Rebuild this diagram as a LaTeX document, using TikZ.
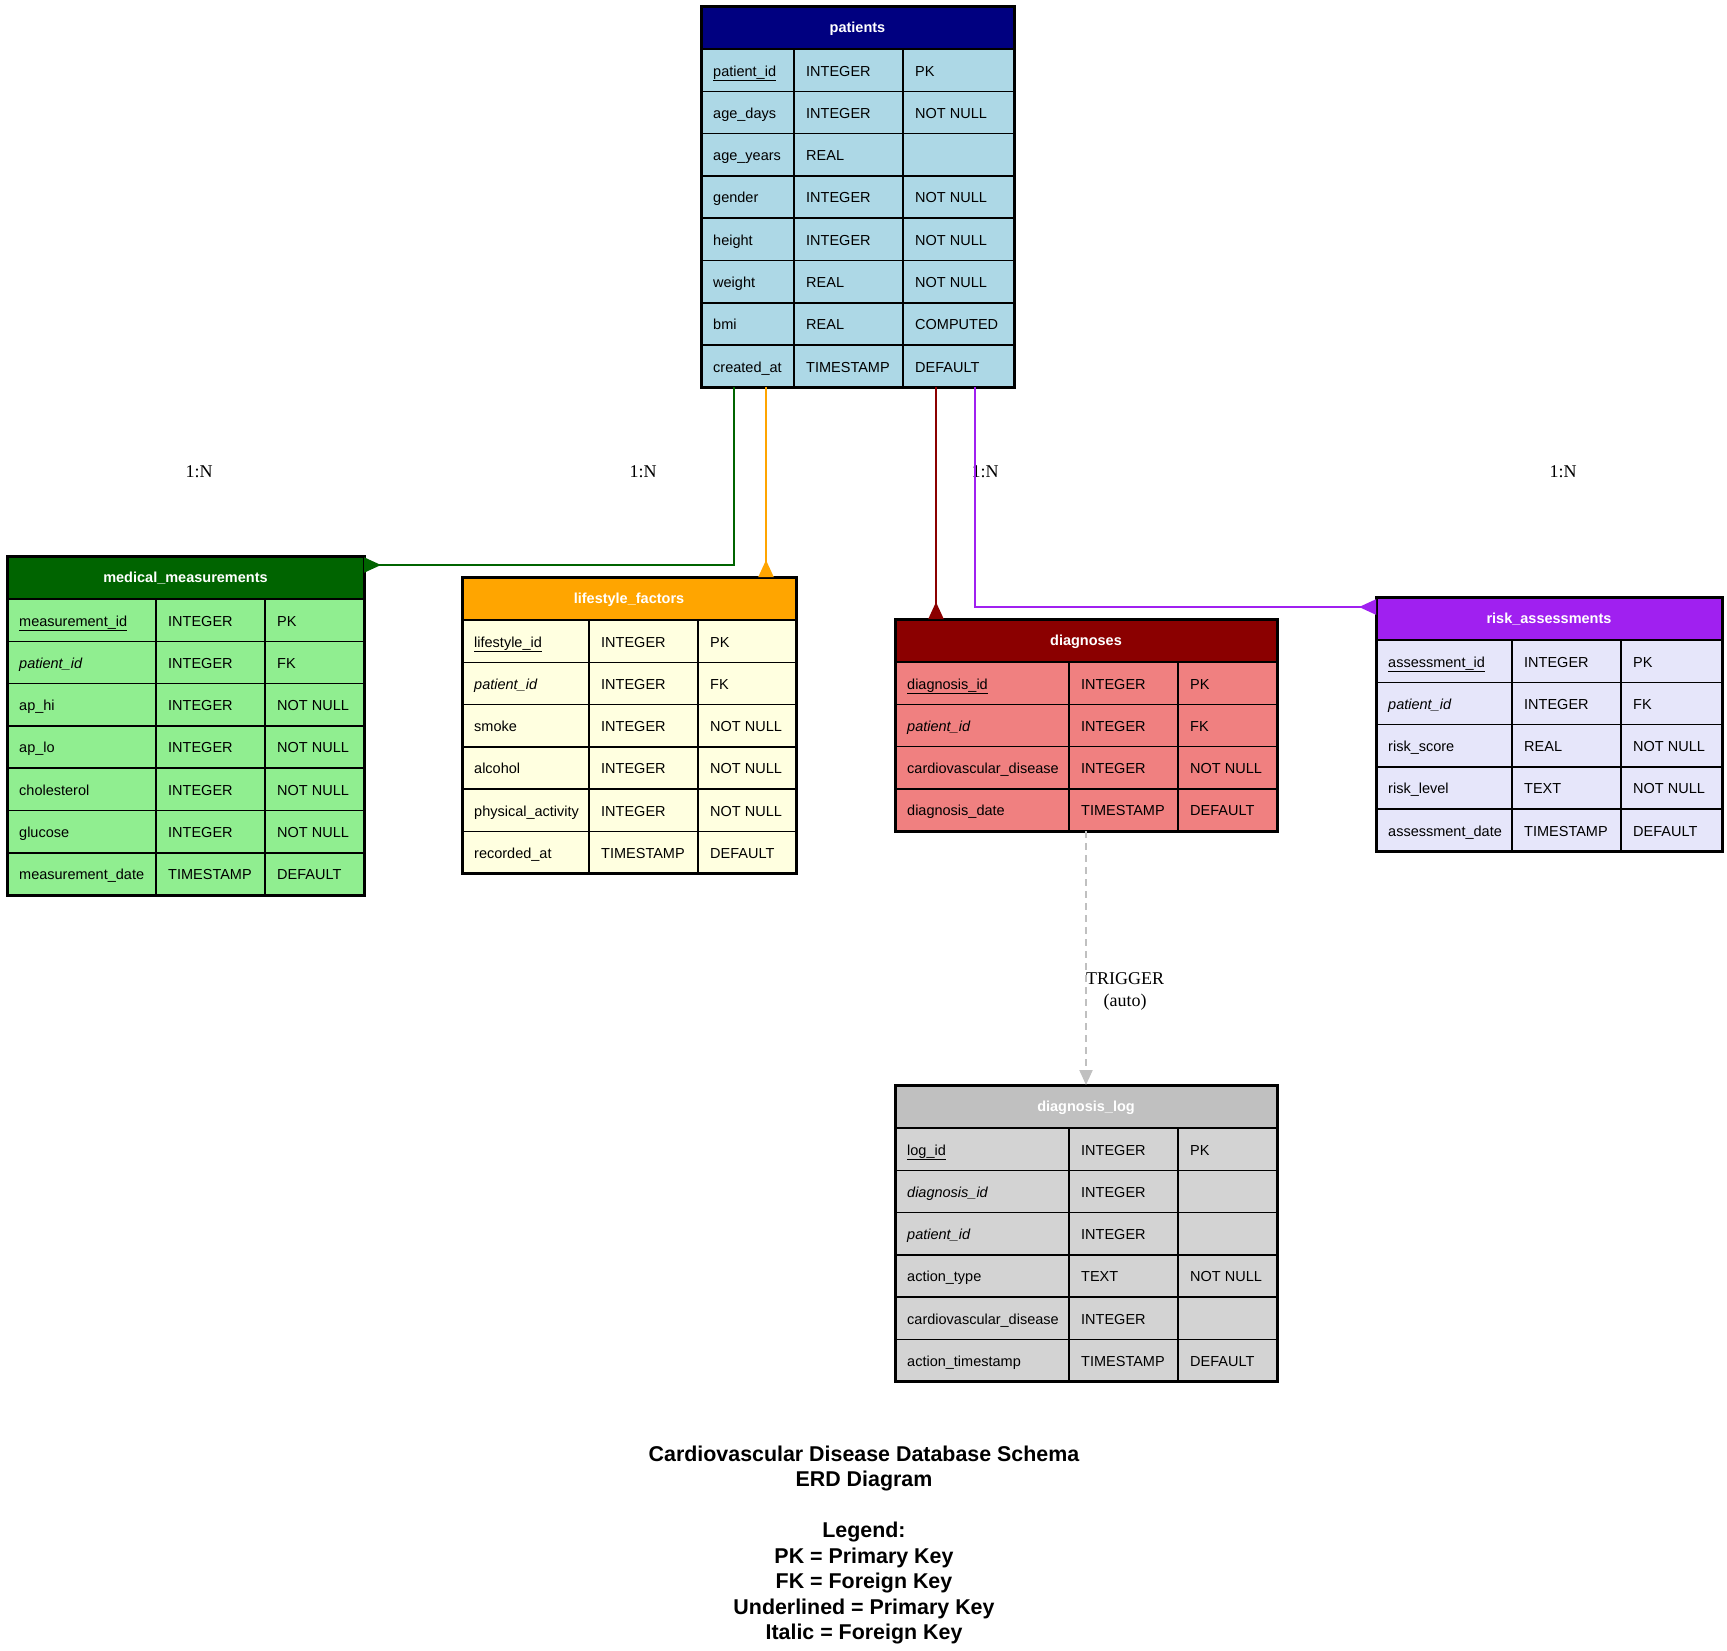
\documentclass[tikz,border=0pt]{standalone}
\usepackage{fontspec}
\setmainfont{Liberation Sans}
\newfontfamily\lblfont{Liberation Serif}
\usetikzlibrary{calc, arrows.meta}

\definecolor{patientshead}{HTML}{000080}
\definecolor{patientscell}{HTML}{ADD8E6}
\definecolor{medicalhead}{HTML}{006400}
\definecolor{medicalcell}{HTML}{90EE90}
\definecolor{lifestylehead}{HTML}{FFA500}
\definecolor{lifestylecell}{HTML}{FFFFE0}
\definecolor{diagnoseshead}{HTML}{8B0000}
\definecolor{diagnosescell}{HTML}{F08080}
\definecolor{riskhead}{HTML}{A020F0}
\definecolor{riskcell}{HTML}{E6E6FA}
\definecolor{dloghead}{HTML}{C0C0C0}
\definecolor{dlogcell}{HTML}{D3D3D3}

\newcommand{\pk}[1]{\underline{#1}}
\newcommand{\fk}[1]{\textit{#1}}

% table: name, x, y, width of the three columns, title, rows
\newcommand{\erdtable}[8]{%
  \fill[#1head] (#2,#3) rectangle ++({#4+#5+#6},43);
  \node[headtxt] (#1-head) at ({#2+(#4+#5+#6)/2},{#3+26}) {#7};
  \foreach \fld/\typ/\key [count=\i] in {#8}{%
    \pgfmathsetmacro\ry{#3+43+(\i-1)*42.3}
    \draw[cellgrid, fill=#1cell] (#2,\ry) rectangle ++(#4,42.3);
    \draw[cellgrid, fill=#1cell] ({#2+#4},\ry) rectangle ++(#5,42.3);
    \draw[cellgrid, fill=#1cell] ({#2+#4+#5},\ry) rectangle ++(#6,42.3);
    \node[celltxt] (#1-f\i) at ({#2+12},{\ry+27}) {\fld};
    \node[celltxt] (#1-t\i) at ({#2+#4+12},{\ry+27}) {\typ};
    \node[celltxt] (#1-k\i) at ({#2+#4+#5+12},{\ry+27}) {\key};
    \xdef\erdrows{\i}
  }
  \node[tablebox, minimum width={(#4+#5+#6)*1pt}, minimum height={(43+\erdrows*42.3)*1pt}] (#1) at (#2,#3) {};
}

\begin{document}
\begin{tikzpicture}[x=1pt, y=-1pt,
    cellgrid/.style={draw=black, line width=1.5pt},
    tablebox/.style={draw=black, line width=3pt, anchor=north west, inner sep=0pt, outer sep=0pt},
    headtxt/.style={anchor=base, inner sep=0pt, text=white, font=\bfseries\fontsize{14.5}{17}\selectfont},
    celltxt/.style={anchor=base west, inner sep=0pt, font=\fontsize{14.5}{17}\selectfont},
    card/.style={font=\lblfont\fontsize{18}{22}\selectfont, align=center},
    rel/.style={line width=2pt, -{Triangle[reversed, length=17pt, width=15pt]}},
    trig/.style={line width=2pt, dloghead, dash pattern=on 7pt off 5pt, -{Triangle[length=15pt, width=13pt]}},
    titletxt/.style={align=center, font=\bfseries\fontsize{21.4}{25.5}\selectfont}]
		\useasboundingbox (0,0) rectangle (1727,1650);
		\fill[white] (0,0) rectangle (1727,1650);

		% cardinality labels
		\node[card] at (199,472) (c1) {1:N};
		\node[card] at (643,472) (c2) {1:N};
		\node[card] at (985,472) (c3) {1:N};
		\node[card] at (1563,472) (c4) {1:N};
		\node[card] at (1125,991) (trg) {TRIGGER\\(auto)};

		\erdtable{patients}{701}{6}{93}{109}{111}{patients}{
			\pk{patient\_id}/INTEGER/PK,
			age\_days/INTEGER/NOT NULL,
			age\_years/REAL/{},
			gender/INTEGER/NOT NULL,
			height/INTEGER/NOT NULL,
			weight/REAL/NOT NULL,
			bmi/REAL/COMPUTED,
			created\_at/TIMESTAMP/DEFAULT}
		\erdtable{medical}{7}{556}{149}{109}{99}{medical\_measurements}{
			\pk{measurement\_id}/INTEGER/PK,
			\fk{patient\_id}/INTEGER/FK,
			ap\_hi/INTEGER/NOT NULL,
			ap\_lo/INTEGER/NOT NULL,
			cholesterol/INTEGER/NOT NULL,
			glucose/INTEGER/NOT NULL,
			measurement\_date/TIMESTAMP/DEFAULT}
		\erdtable{lifestyle}{462}{577}{127}{109}{98}{lifestyle\_factors}{
			\pk{lifestyle\_id}/INTEGER/PK,
			\fk{patient\_id}/INTEGER/FK,
			smoke/INTEGER/NOT NULL,
			alcohol/INTEGER/NOT NULL,
			physical\_activity/INTEGER/NOT NULL,
			recorded\_at/TIMESTAMP/DEFAULT}
		\erdtable{diagnoses}{895}{619}{174}{109}{99}{diagnoses}{
			\pk{diagnosis\_id}/INTEGER/PK,
			\fk{patient\_id}/INTEGER/FK,
			cardiovascular\_disease/INTEGER/NOT NULL,
			diagnosis\_date/TIMESTAMP/DEFAULT}
		\erdtable{risk}{1376}{597}{136}{109}{101}{risk\_assessments}{
			\pk{assessment\_id}/INTEGER/PK,
			\fk{patient\_id}/INTEGER/FK,
			risk\_score/REAL/NOT NULL,
			risk\_level/TEXT/NOT NULL,
			assessment\_date/TIMESTAMP/DEFAULT}
		\erdtable{dlog}{895}{1085}{174}{109}{99}{diagnosis\_log}{
			\pk{log\_id}/INTEGER/PK,
			\fk{diagnosis\_id}/INTEGER/{},
			\fk{patient\_id}/INTEGER/{},
			action\_type/TEXT/NOT NULL,
			cardiovascular\_disease/INTEGER/{},
			action\_timestamp/TIMESTAMP/DEFAULT}

		% relations
		\draw[rel, medicalhead] ($(patients.south west)+(33,0)$) |- ($(medical.north east)+(0,9)$);
		\draw[rel, lifestylehead] ($(patients.south west)+(65,0)$) -- ($(lifestyle.north east)+(-30,0)$);
		\draw[rel, diagnoseshead] ($(patients.south west)+(235,0)$) -- ($(diagnoses.north west)+(41,0)$);
		\draw[rel, riskhead] ($(patients.south west)+(274,0)$) |- ($(risk.north west)+(0,10)$);
		\draw[trig] (diagnoses.south) -- (dlog.north);

		\node[titletxt] at (864,1545) (title) {Cardiovascular Disease Database Schema\\ERD Diagram\\[25.5pt]Legend:\\PK = Primary Key\\FK = Foreign Key\\Underlined = Primary Key\\Italic = Foreign Key};
\end{tikzpicture}
\end{document}
